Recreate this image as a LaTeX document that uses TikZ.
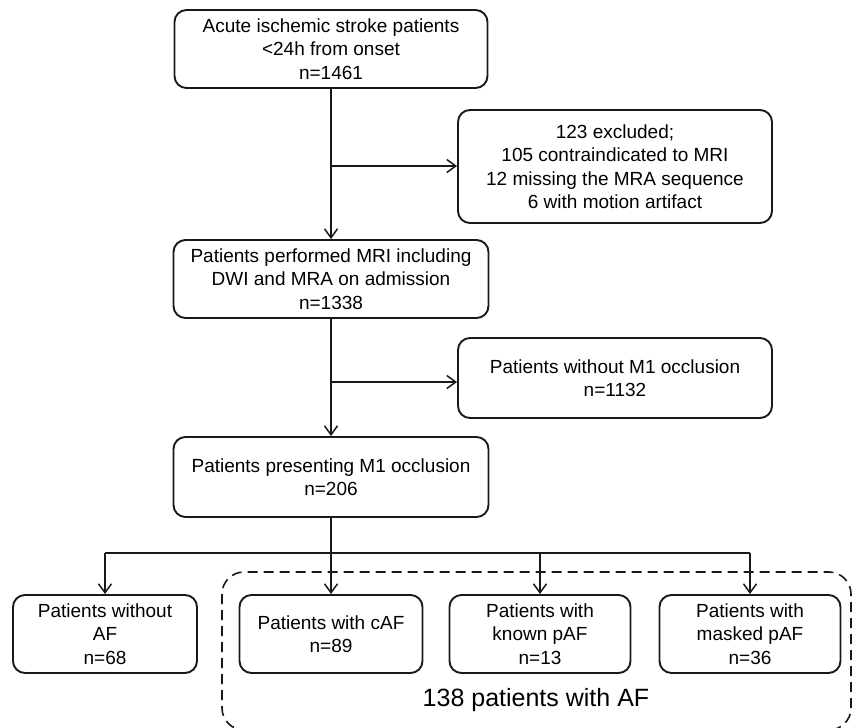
\documentclass[tikz,border=0pt]{standalone}
\usepackage{fontspec}
\setmainfont{Liberation Sans}
\usetikzlibrary{arrows.meta}
\begin{document}
\begin{tikzpicture}[x=1pt,y=-1pt,
  box/.style={draw=black!90, line width=1.9pt, rounded corners=12pt, align=center, inner sep=0pt,
              font=\fontsize{19}{23.5}\selectfont},
  arr/.style={draw=black!90, line width=1.5pt, -{Straight Barb[length=9pt,width=13pt]}},
  ln/.style={draw=black!90, line width=1.5pt},
  afbox/.style={draw=black!90, line width=1.6pt, dash pattern=on 10pt off 6pt, rounded corners=22pt}]
\clip (0,0) rectangle (852,728);

\node[box, minimum width=313pt, minimum height=78pt] (acute) at (331,49)
  {Acute ischemic stroke patients\\<24h from onset\\n=1461};
\node[box, minimum width=314pt, minimum height=113pt] (excl) at (615,166.5)
  {123 excluded;\\105 contraindicated to MRI\\12 missing the MRA sequence\\6 with motion artifact};
\node[box, minimum width=315pt, minimum height=78pt] (mri) at (331,279)
  {Patients performed MRI including\\DWI and MRA on admission\\n=1338};
\node[box, minimum width=314pt, minimum height=80pt] (nom1) at (615,378)
  {Patients without M1 occlusion\\n=1132};
\node[box, minimum width=315pt, minimum height=80pt] (m1) at (331,477)
  {Patients presenting M1 occlusion\\n=206};

\node[box, minimum width=184pt, minimum height=78pt] (noaf) at (105,634)
  {Patients without\\AF\\n=68};
\node[box, minimum width=183pt, minimum height=78pt] (caf) at (331,634)
  {Patients with cAF\\n=89};
\node[box, minimum width=181pt, minimum height=78pt] (kpaf) at (540,634)
  {Patients with\\known pAF\\n=13};
\node[box, minimum width=181pt, minimum height=78pt] (mpaf) at (750,634)
  {Patients with\\masked pAF\\n=36};

\draw[afbox] (222,572) rectangle (851,730);
\node[font=\fontsize{25}{30}\selectfont, inner sep=0pt] (aflabel) at (536,700) {138 patients with AF};

\coordinate (j1) at (331,166);
\coordinate (j2) at (331,382);
\coordinate (br) at (331,553);

\draw[arr] (acute) -- (mri);
\draw[arr] (j1) -- (excl.west |- j1);
\draw[arr] (mri) -- (m1);
\draw[arr] (j2) -- (nom1.west |- j2);

\draw[arr] (m1) -- (caf);
\draw[ln] (noaf.north |- br) -- (mpaf.north |- br);
\draw[arr] (noaf.north |- br) -- (noaf.north);
\draw[arr] (kpaf.north |- br) -- (kpaf.north);
\draw[arr] (mpaf.north |- br) -- (mpaf.north);
\end{tikzpicture}
\end{document}
